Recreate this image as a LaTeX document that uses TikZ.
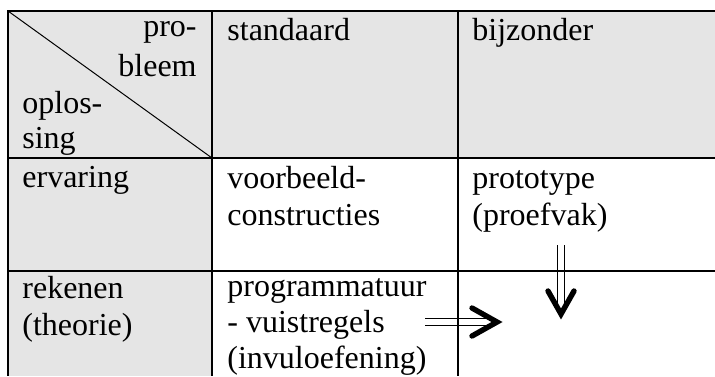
\documentclass[tikz,border=0pt]{standalone}
\usepackage{fontspec}
\setmainfont{Liberation Serif}
\usetikzlibrary{calc}

\begin{document}
\begin{tikzpicture}[
	x=0.5pt,y=-0.5pt,
	font=\fontsize{16pt}{18.5pt}\selectfont
]
\tikzset{
    celltext/.style = {align=left,anchor=base west,inner sep=0pt},
    gridline/.style = {draw=black,line width=0.8pt},
    twoline/.style = {draw=black,line width=0.7pt,double=white,double distance=2.6pt},
    bighead/.style = {draw=black,line width=2.7pt,line cap=round,line join=miter}
}
\useasboundingbox (0,0) rectangle (715,376);
\fill[gray!20] (8,11) rectangle (715,158);
\fill[gray!20] (8,158) rectangle (212,376);
\coordinate (downtop) at (561,245);
\coordinate (downtip) at (561,314);
\coordinate (righttail) at (425,322);
\coordinate (righttip) at (497,322);
\draw[twoline] (downtop) -- ($(downtip)+(0,-4)$);
\draw[bighead] ($(downtip)+(-13,-23)$) -- (downtip) -- ($(downtip)+(13,-23)$);
\draw[twoline] (righttail) -- ($(righttip)+(-4,0)$);
\draw[bighead] ($(righttip)+(-25,-14)$) -- (righttip) -- ($(righttip)+(-25,14)$);
\draw[gridline] (715,11) -- (8,11) -- (8,376);
\draw[gridline] (8,158) -- (715,158);
\draw[gridline] (8,271) -- (715,271);
\draw[gridline] (212,11) -- (212,376);
\draw[gridline] (458,11) -- (458,376);
\draw[line width=0.5pt] (8,11) -- (212,158);
\node[celltext,align=right,anchor=base east] (probleem) at (197,76) {pro-\\[1.5pt]bleem};
\node[celltext] (oplossing) at (22,148) {oplos-\\[-1pt]sing};
\node[celltext] (standaard) at (227,40) {standaard};
\node[celltext] (bijzonder) at (472,40) {bijzonder};
\node[celltext] (ervaring) at (22,187) {ervaring};
\node[celltext] (voorbeeld) at (227,225) {voorbeeld-\\constructies};
\node[celltext] (prototype) at (472,225) {prototype\\(proefvak)};
\node[celltext] (rekenen) at (22,335) {rekenen\\(theorie)};
\node[celltext] (programmatuur) at (227,368) {programmatuur\\[-0.5pt]- vuistregels\\[-0.5pt](invuloefening)};
\end{tikzpicture}
\end{document}
